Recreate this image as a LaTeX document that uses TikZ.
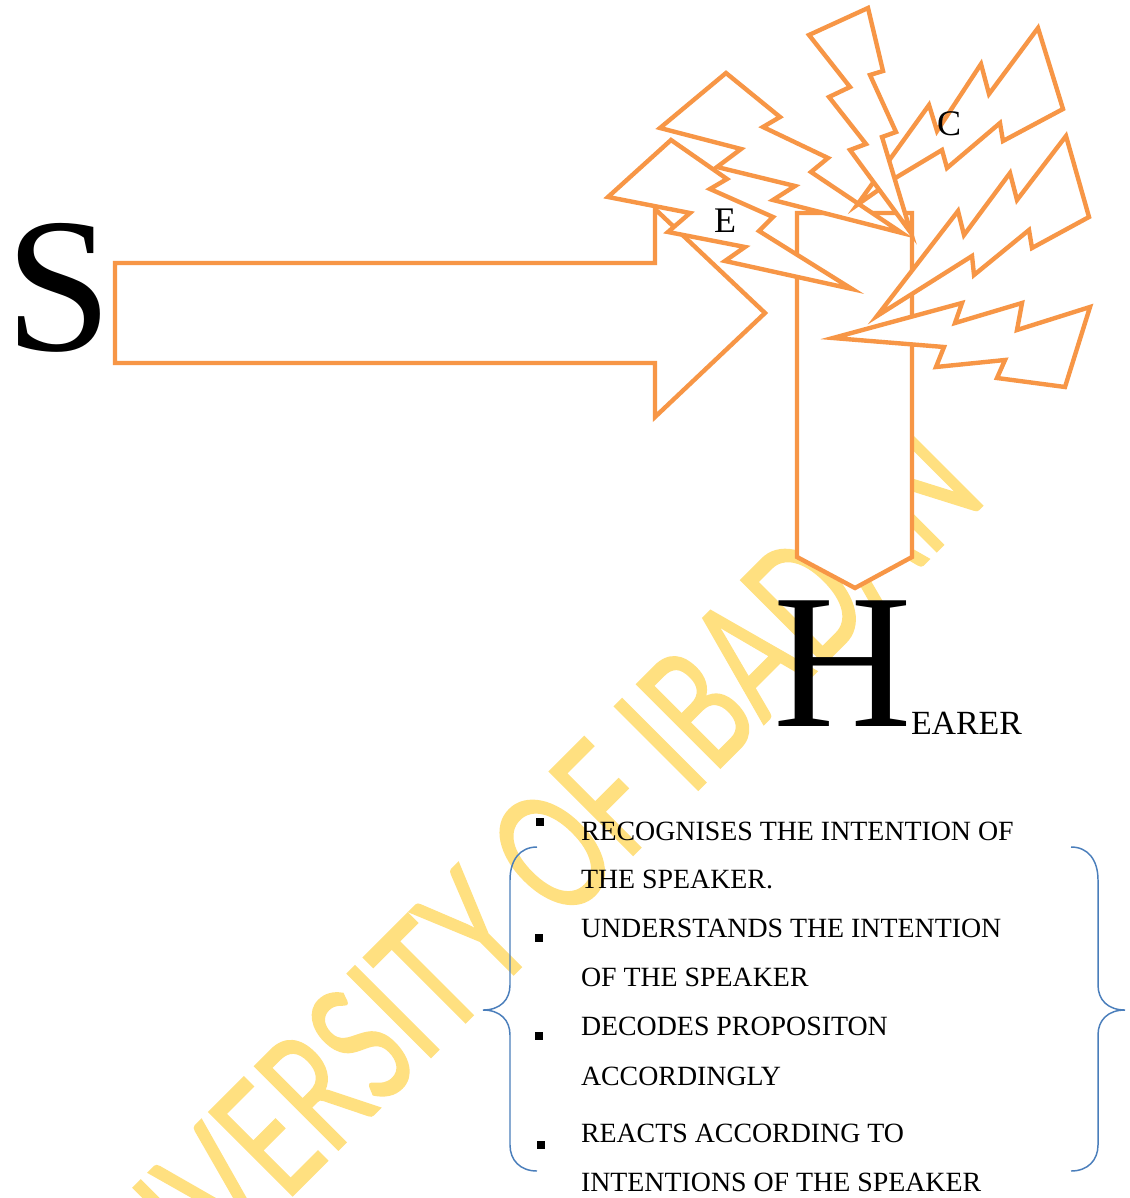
\documentclass[tikz,border=0pt]{standalone}
\usepackage{fontspec}
\setmainfont{Liberation Serif}
\newfontfamily\wmfont[FakeBold=1.2]{Lato}
\definecolor{orng}{HTML}{F79646}
\definecolor{braceblue}{HTML}{4A7EBB}
\definecolor{wmyellow}{RGB}{255,224,128}
\begin{document}
\begin{tikzpicture}[x=0.75pt,y=-0.75pt,
  orngshape/.style={draw=orng,line width=3.3pt,fill=white,line join=miter},
  lbl/.style={inner sep=0pt,outer sep=0pt,text=black},
  itemtxt/.style={lbl,anchor=base west,font=\fontsize{20.9}{22}\selectfont},
  bul/.style={rectangle,fill=black,inner sep=0pt,minimum size=6pt},
  bracestyle/.style={draw=braceblue,line width=1.1pt},
  wm/.style={inner sep=0pt,text=wmyellow,font=\wmfont\fontsize{123.5}{130}\selectfont}]
\fill[white] (0,0) rectangle (1130,1198);
\useasboundingbox (0,0) rectangle (1130,1198);
% watermark
\node[wm,rotate=45,anchor=base] (wmark) at (540,948) {\scalebox{0.68}[1]{UNIVERSITY OF IBADAN}};
% big arrow S -> H
\draw[orngshape] (115,263) -- (655,263) -- (655,209) -- (765,313) -- (655,417) -- (655,363) -- (115,363) -- cycle;
% down arrow (pentagon)
\draw[orngshape] (797,213) -- (912,213) -- (912,557) -- (855,588) -- (797,557) -- cycle;
% lightning bolts
\draw[orngshape] (726,73) -- (780,117) -- (763,127) -- (828,158) -- (811,172) -- (902,233) -- (773,200) -- (795,186) -- (717,167) -- (741,149) -- (660,128) -- cycle;
\draw[orngshape] (671,140) -- (727,179) -- (710,189) -- (773,217) -- (759,231) -- (852,289) -- (725,261) -- (745,247) -- (668,232) -- (690,213) -- (608,197) -- cycle;
\draw[orngshape] (857,205) -- (929,105) -- (937,131) -- (981,64) -- (989,94) -- (1038,28) -- (1063,109) -- (1003,141) -- (1000,123) -- (947,168) -- (942,150) -- (897,177) -- cycle;
\draw[orngshape] (809,35) -- (868,8) -- (883,71) -- (870,75) -- (896,132) -- (882,137) -- (911,233) -- (850,150) -- (866,144) -- (829,97) -- (850,87) -- cycle;
\draw[orngshape] (877,316) -- (958,211) -- (964,235) -- (1010,173) -- (1017,200) -- (1066,136) -- (1089,217) -- (1032,248) -- (1029,230) -- (974,275) -- (972,256) -- cycle;
\draw[orngshape] (833,338) -- (962,303) -- (955,323) -- (1022,303) -- (1017,330) -- (1090,307) -- (1065,387) -- (997,378) -- (1005,360) -- (936,367) -- (944,347) -- cycle;
% labels
\node[lbl,anchor=base west,font=\fontsize{144}{144}\selectfont] (S) at (5,350) {S};
\node[lbl,anchor=base west,font=\fontsize{144}{144}\selectfont] (H) at (773,726) {H};
\node[lbl,anchor=base west,font=\fontsize{25.4}{26}\selectfont] (earer) at (911,734) {EARER};
\node[lbl,anchor=base,font=\fontsize{27}{28}\selectfont] (E) at (725,233) {E};
\node[lbl,anchor=base,font=\fontsize{27}{28}\selectfont] (C) at (949,136) {C};
% bullets
\node[bul] (b1) at (540,821.5) {};
\node[bul] (b2) at (539,937.5) {};
\node[bul] (b3) at (539,1035.5) {};
\node[bul] (b4) at (540.5,1144.5) {};
% item text
\node[itemtxt] (t1) at (581,840) {RECOGNISES THE INTENTION OF};
\node[itemtxt] (t2) at (581,888.5) {THE SPEAKER.};
\node[itemtxt] (t3) at (581,937.5) {UNDERSTANDS THE INTENTION};
\node[itemtxt] (t4) at (581,986) {OF THE SPEAKER};
\node[itemtxt] (t5) at (581,1035.5) {DECODES PROPOSITON};
\node[itemtxt] (t6) at (581,1085.5) {ACCORDINGLY};
\node[itemtxt] (t7) at (581,1142) {REACTS ACCORDING TO};
\node[itemtxt] (t8) at (581,1191) {INTENTIONS OF THE SPEAKER};
% braces
\draw[bracestyle] (537,847) .. controls (520,847) and (510,860) .. (510,880) -- (510,985) .. controls (510,1000) and (500,1010) .. (483,1010) .. controls (500,1010) and (510,1020) .. (510,1035) -- (510,1145) .. controls (510,1160) and (520,1171) .. (537,1171);
\draw[bracestyle] (1071,847) .. controls (1088,847) and (1098,860) .. (1098,880) -- (1098,985) .. controls (1098,1000) and (1108,1010) .. (1125,1010) .. controls (1108,1010) and (1098,1020) .. (1098,1035) -- (1098,1145) .. controls (1098,1160) and (1088,1171) .. (1071,1171);
\end{tikzpicture}
\end{document}
